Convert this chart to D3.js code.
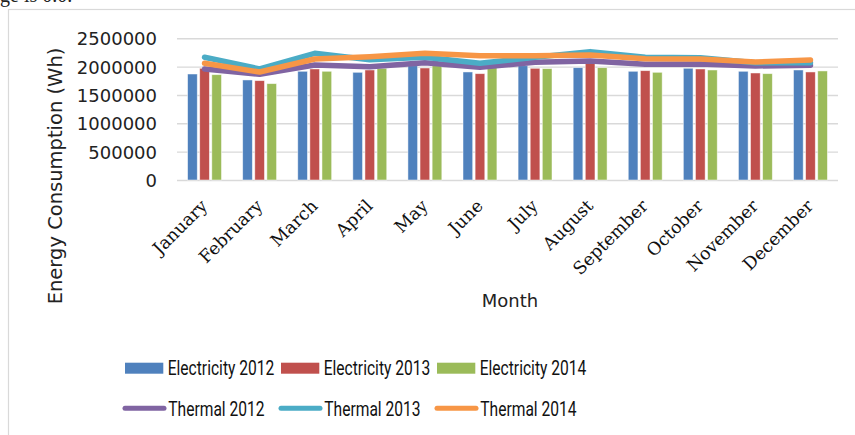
<!DOCTYPE html>
<html>
<head>
<meta charset="utf-8">
<script src="https://cdn.jsdelivr.net/npm/d3@7"></script>
<style>
  html, body { margin: 0; padding: 0; background: #fff; }
  svg { display: block; }
</style>
</head>
<body>
<svg id="chart" width="855" height="435"></svg>
<script>
// Monthly energy consumption, 2012-2014
const months = ["January", "February", "March", "April", "May", "June",
                "July", "August", "September", "October", "November", "December"];

const electricity2012 = [1870000, 1765000, 1918000, 1900000, 2017000, 1906000, 2017000, 1982000, 1918000, 1971000, 1918000, 1941000];
const electricity2013 = [1971000, 1753000, 1959000, 1941000, 1976000, 1876000, 1971000, 2060000, 1929000, 1959000, 1888000, 1906000];
const electricity2014 = [1858000, 1700000, 1918000, 1971000, 2017000, 1982000, 1965000, 1982000, 1900000, 1941000, 1876000, 1924000];

const thermal2012 = [1959000, 1865000, 2029000, 2000000, 2070000, 1988000, 2076000, 2100000, 2041000, 2047000, 2012000, 2023000];
const thermal2013 = [2165000, 1960000, 2235000, 2120000, 2165000, 2059000, 2165000, 2265000, 2165000, 2159000, 2070000, 2070000];
const thermal2014 = [2059000, 1905000, 2135000, 2176000, 2235000, 2194000, 2194000, 2206000, 2140000, 2135000, 2082000, 2118000];

const yTicks = [0, 500000, 1000000, 1500000, 2000000, 2500000];

const barSeries = [
  { name: "Electricity 2012", values: electricity2012, color: "#4F81BD" },
  { name: "Electricity 2013", values: electricity2013, color: "#C0504D" },
  { name: "Electricity 2014", values: electricity2014, color: "#9BBB59" }
];
const lineSeries = [
  { name: "Thermal 2012", values: thermal2012, color: "#8064A2" },
  { name: "Thermal 2013", values: thermal2013, color: "#4BACC6" },
  { name: "Thermal 2014", values: thermal2014, color: "#F79646" }
];

const svg = d3.select("#chart");
const plot = { left: 177, right: 838, top: 38.3, bottom: 180 };

// tail of the running text line above the chart box
svg.append("text")
  .attr("x", 0).attr("y", 1.5)
  .attr("font-family", "Liberation Serif")
  .attr("font-size", 20)
  .attr("fill", "#222")
  .text("ge  is 0.0.");

// chart frame
svg.append("rect")
  .attr("x", 8.5).attr("y", 9.5)
  .attr("width", 900).attr("height", 500)
  .attr("fill", "none")
  .attr("stroke", "#d9d9d9")
  .attr("stroke-width", 1.2);

const x0 = d3.scaleBand().domain(months).range([plot.left, plot.right]).padding(0);
const groupW = 33.9;
const x1 = d3.scaleBand()
  .domain(barSeries.map(s => s.name))
  .range([x0.bandwidth() / 2 - groupW / 2, x0.bandwidth() / 2 + groupW / 2])
  .paddingInner(0.2);
const y = d3.scaleLinear().domain([0, 2500000]).range([plot.bottom, plot.top]);

// gridlines and value labels
const yAxis = d3.axisLeft(y).tickValues(yTicks).tickSize(-(plot.right - plot.left)).tickPadding(20)
  .tickFormat(d3.format("d"));
const yg = svg.append("g").attr("transform", `translate(${plot.left},0)`).call(yAxis);
yg.select(".domain").remove();
yg.selectAll(".tick line").attr("stroke", "#d9d9d9").attr("stroke-width", 1.4);
yg.selectAll(".tick text")
  .attr("font-family", "DejaVu Sans")
  .attr("font-size", 18)
  .attr("fill", "#222")
  .attr("dy", "0.36em");

// bars
const groups = svg.append("g").selectAll("g")
  .data(months)
  .join("g")
  .attr("transform", d => `translate(${x0(d)},0)`);

groups.selectAll("rect")
  .data((m, i) => barSeries.map(s => ({ key: s.name, color: s.color, v: s.values[i] })))
  .join("rect")
  .attr("x", d => x1(d.key))
  .attr("y", d => y(d.v))
  .attr("width", x1.bandwidth())
  .attr("height", d => y(0) - y(d.v))
  .attr("fill", d => d.color)
  .attr("stroke", "#ffffff")
  .attr("stroke-opacity", 0.6)
  .attr("stroke-width", 0.8);

// thermal lines
const line = d3.line()
  .x((d, i) => x0(months[i]) + x0.bandwidth() / 2)
  .y(d => y(d));

svg.append("g").selectAll("path")
  .data(lineSeries)
  .join("path")
  .attr("d", s => line(s.values))
  .attr("fill", "none")
  .attr("stroke", s => s.color)
  .attr("stroke-width", 5.5)
  .attr("stroke-linejoin", "round")
  .attr("stroke-linecap", "round");

// month labels
svg.append("g").selectAll("text")
  .data(months)
  .join("text")
  .attr("transform", d => `translate(${x0(d) + x0.bandwidth() / 2 + 4},207) rotate(-45)`)
  .attr("text-anchor", "end")
  .attr("font-family", "DejaVu Serif")
  .attr("font-size", 17.5)
  .attr("fill", "#111")
  .text(d => d);

// axis titles
svg.append("text")
  .attr("x", 510).attr("y", 307)
  .attr("text-anchor", "middle")
  .attr("font-family", "DejaVu Sans")
  .attr("font-size", 18)
  .attr("fill", "#222")
  .text("Month");

svg.append("text")
  .attr("transform", "translate(62,176) rotate(-90)")
  .attr("text-anchor", "middle")
  .attr("font-family", "DejaVu Sans")
  .attr("font-size", 19.5)
  .attr("fill", "#222")
  .text("Energy Consumption (Wh)");

// legend
const legendX = [125, 281, 437];
const legendSx = 0.8;
const legend = svg.append("g");

legend.selectAll("g.bar-item")
  .data(barSeries)
  .join("g")
  .attr("class", "bar-item")
  .attr("transform", (d, i) => `translate(${legendX[i]},0)`)
  .each(function(d) {
    const g = d3.select(this);
    g.append("rect").attr("x", 0).attr("y", 362.7).attr("width", 38.3).attr("height", 11).attr("fill", d.color);
    g.append("text")
      .attr("transform", "translate(42.7,375) scale(" + legendSx + ",1)")
      .attr("font-family", "Roboto")
      .attr("font-size", 19.5)
      .attr("fill", "#111")
      .text(d.name);
  });

legend.selectAll("g.line-item")
  .data(lineSeries)
  .join("g")
  .attr("class", "line-item")
  .attr("transform", (d, i) => `translate(${legendX[i]},0)`)
  .each(function(d) {
    const g = d3.select(this);
    g.append("line").attr("x1", 0).attr("x2", 39).attr("y1", 408.3).attr("y2", 408.3)
      .attr("stroke", d.color).attr("stroke-width", 5).attr("stroke-linecap", "round");
    g.append("text")
      .attr("transform", "translate(43.3,416) scale(" + legendSx + ",1)")
      .attr("font-family", "Roboto")
      .attr("font-size", 19.5)
      .attr("fill", "#111")
      .text(d.name);
  });
</script>
</body>
</html>
